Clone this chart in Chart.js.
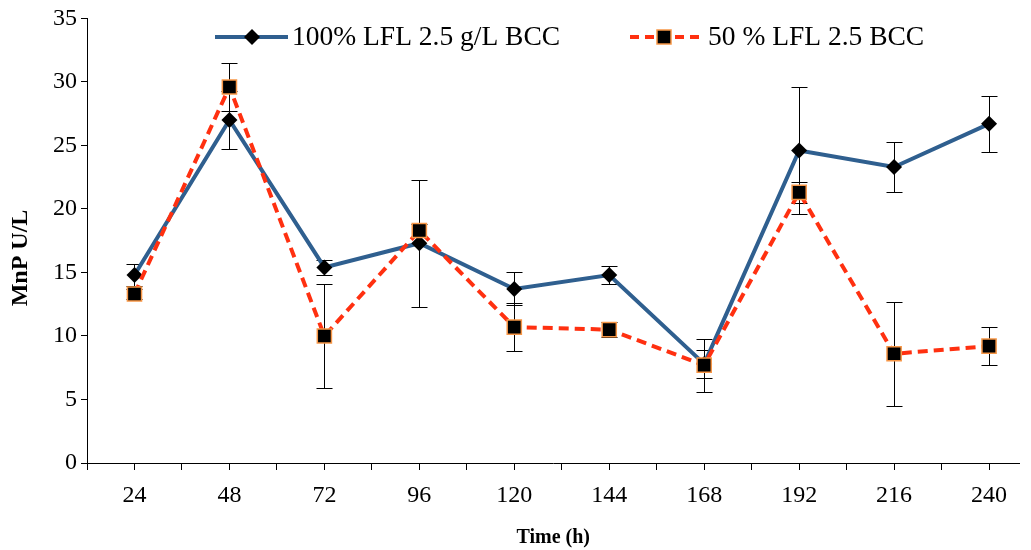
<!DOCTYPE html>
<html>
<head>
<meta charset="utf-8">
<script src="https://cdn.jsdelivr.net/npm/chart.js"></script>
<style>
  html, body { margin: 0; padding: 0; background: #fff; }
  #wrap { width: 1031px; height: 550px; }
</style>
</head>
<body>
<div id="wrap"><canvas id="mnpChart"></canvas></div>
<script>
// data
const hours = [24, 48, 72, 96, 120, 144, 168, 192, 216, 240];
const lfl100 = [14.8, 27.0, 15.4, 17.3, 13.7, 14.8, 7.8, 24.6, 23.3, 26.7];
const lfl100Err = [0.9, 2.3, 0.6, 5.0, 1.3, 0.7, 1.1, 5.0, 2.0, 2.2];
const lfl50 = [13.3, 29.6, 10.0, 18.3, 10.7, 10.5, 7.7, 21.3, 8.6, 9.2];
const lfl50Err = [0.4, 1.9, 4.1, 0.5, 1.9, 0.6, 2.1, 0.8, 4.1, 1.5];
const yTicks = [0, 5, 10, 15, 20, 25, 30, 35];
// tick marks sit on each time point and half way between them
const xTicks = [12, 24, 36, 48, 60, 72, 84, 96, 108, 120, 132, 144, 156, 168, 180, 192, 204, 216, 228, 240];

const serif = "'Liberation Serif', 'Times New Roman', serif";
const blue = '#2f5f8f';
const red = '#ff3010';
const orange = '#f79646';

function points(ys) {
    return hours.map((h, i) => ({ x: h, y: ys[i] }));
}

/* error bars, drawn under the markers */
const errorBars = {
    id: 'errorBars',
    beforeDatasetsDraw(chart) {
        const ctx = chart.ctx;
        const yScale = chart.scales.y;
        ctx.save();
        ctx.strokeStyle = '#000';
        ctx.lineWidth = 1;
        chart.data.datasets.forEach((ds, di) => {
            const meta = chart.getDatasetMeta(di);
            meta.data.forEach((pt, i) => {
                const v = ds.data[i].y;
                const e = ds.errors[i];
                const top = Math.round(yScale.getPixelForValue(v + e)) + 0.5;
                const bot = Math.round(yScale.getPixelForValue(v - e)) + 0.5;
                const x = Math.round(pt.x) + 0.5;
                ctx.beginPath();
                ctx.moveTo(x, top); ctx.lineTo(x, bot);
                ctx.moveTo(x - 8, top); ctx.lineTo(x + 8, top);
                ctx.moveTo(x - 8, bot); ctx.lineTo(x + 8, bot);
                ctx.stroke();
            });
        });
        ctx.restore();
    }
};

/* legend with line + marker, and rotated y title */
const decorations = {
    id: 'decorations',
    afterDraw(chart) {
        const ctx = chart.ctx;
        const ds = chart.data.datasets;
        ctx.save();
        ctx.font = '27.5px ' + serif;
        ctx.fillStyle = '#000';
        ctx.textBaseline = 'middle';

        // blue entry
        let y = 37;
        ctx.strokeStyle = blue;
        ctx.lineWidth = 4;
        ctx.beginPath(); ctx.moveTo(215, y); ctx.lineTo(288, y); ctx.stroke();
        ctx.fillStyle = '#000';
        ctx.beginPath();
        ctx.moveTo(252, y - 8); ctx.lineTo(260, y); ctx.lineTo(252, y + 8); ctx.lineTo(244, y);
        ctx.closePath(); ctx.fill();
        ctx.fillText(ds[1].label, 292, y + 1);

        // red entry
        ctx.strokeStyle = red;
        ctx.setLineDash([9, 6]);
        ctx.beginPath(); ctx.moveTo(630, y); ctx.lineTo(705, y); ctx.stroke();
        ctx.setLineDash([]);
        ctx.fillStyle = '#000';
        ctx.fillRect(657, y - 7, 14, 14);
        ctx.strokeStyle = orange;
        ctx.lineWidth = 1.5;
        ctx.strokeRect(657, y - 7, 14, 14);
        ctx.fillStyle = '#000';
        ctx.fillText(ds[0].label, 708, y + 1);

        // y axis title
        ctx.translate(21, 258);
        ctx.rotate(-Math.PI / 2);
        ctx.font = 'bold 24px ' + serif;
        ctx.textAlign = 'center';
        ctx.fillText('MnP U/L', 0, 0);
        ctx.restore();
    }
};

const ctx = document.getElementById('mnpChart');

new Chart(ctx, {
    type: 'line',
    data: {
        datasets: [{
            label: '50 % LFL 2.5 BCC',
            data: points(lfl50),
            errors: lfl50Err,
            borderColor: red,
            borderWidth: 4,
            borderDash: [10, 6],
            pointStyle: 'rect',
            pointRadius: 10,
            pointBackgroundColor: '#000',
            pointBorderColor: orange,
            pointBorderWidth: 1.5,
            tension: 0,
            order: 0
        }, {
            label: '100% LFL 2.5 g/L BCC',
            data: points(lfl100),
            errors: lfl100Err,
            borderColor: blue,
            borderWidth: 4,
            pointStyle: 'rectRot',
            pointRadius: 8,
            pointBackgroundColor: '#000',
            pointBorderColor: '#000',
            pointBorderWidth: 0,
            tension: 0,
            order: 1
        }]
    },
    options: {
        responsive: true,
        maintainAspectRatio: false,
        animation: false,
        layout: { padding: { top: 17, right: 0, left: 0, bottom: 0 } },
        plugins: {
            legend: { display: false },
            tooltip: { enabled: false }
        },
        scales: {
            x: {
                type: 'linear',
                min: 12,
                max: 247.7,
                afterBuildTicks: s => { s.ticks = xTicks.map(v => ({ value: v })); },
                grid: { drawOnChartArea: false, color: '#000', tickLength: 7 },
                border: { color: '#000', width: 1 },
                ticks: {
                    autoSkip: false,
                    maxRotation: 0,
                    padding: 11,
                    color: '#000',
                    font: { family: serif, size: 24 },
                    callback: v => hours.includes(v) ? String(v) : ''
                },
                title: {
                    display: true,
                    text: 'Time (h)',
                    color: '#000',
                    font: { family: serif, size: 20, weight: 'bold' },
                    padding: { top: 4, bottom: 0 }
                },
                afterFit: s => { s.height = 87; s.paddingLeft = 0; s.paddingRight = 0; }
            },
            y: {
                min: 0,
                max: 35,
                afterBuildTicks: s => { s.ticks = yTicks.map(v => ({ value: v })); },
                grid: { drawOnChartArea: false, color: '#000', tickLength: 6 },
                border: { color: '#000', width: 1 },
                ticks: {
                    padding: 4,
                    color: '#000',
                    font: { family: serif, size: 24 }
                },
                afterFit: s => { s.width = 87; }
            }
        }
    },
    plugins: [errorBars, decorations]
});
</script>
</body>
</html>
